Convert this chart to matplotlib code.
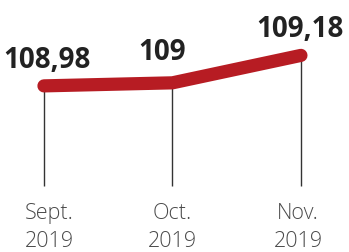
import matplotlib
matplotlib.use('Agg')
import matplotlib.pyplot as plt

months = ["Sept.", "Oct.", "Nov."]
years = ["2019", "2019", "2019"]
values = [108.98, 109.00, 109.18]
value_labels = ["108,98", "109", "109,18"]

red = "#b71c23"
x = list(range(len(values)))

fig = plt.figure(figsize=(3.49, 2.53), dpi=100)
ax = fig.add_axes([0, 0, 1, 1])
ax.set_xlim(-0.342, 2.374)
ax.set_ylim(107.89, 109.55)
ax.axis('off')

# thin drop lines under the red line
ax.vlines(x, 108.322, values, color="#333333", lw=1.0, zorder=1)
ax.plot(x, values, color=red, lw=9.5, solid_capstyle='round', zorder=2)

# value labels above the points
offsets = [(3, 19), (-10, 24), (-1, 19)]
for xi, v, lab, (dx, dy) in zip(x, values, value_labels, offsets):
    ax.annotate(lab, (xi, v), xytext=(dx, dy), textcoords='offset pixels',
                ha='center', va='baseline', fontsize=20, fontweight='bold',
                family='Open Sans', color="#222222")

# month / year labels
mdx = [5, 0, -3]
for xi, m, yr, dx in zip(x, months, years, mdx):
    ax.annotate(m, (xi, 0), xycoords=('data', 'figure pixels'),
                xytext=(dx, 34), textcoords='offset pixels',
                ha='center', va='baseline', fontsize=15.5, fontweight='light',
                family='Open Sans', color="#4a4a4a")
    ax.annotate(yr, (xi, 0), xycoords=('data', 'figure pixels'),
                xytext=(dx, 6), textcoords='offset pixels',
                ha='center', va='baseline', fontsize=15.5, fontweight='light',
                family='Open Sans', color="#4a4a4a")

plt.savefig("out.png", dpi=100)
